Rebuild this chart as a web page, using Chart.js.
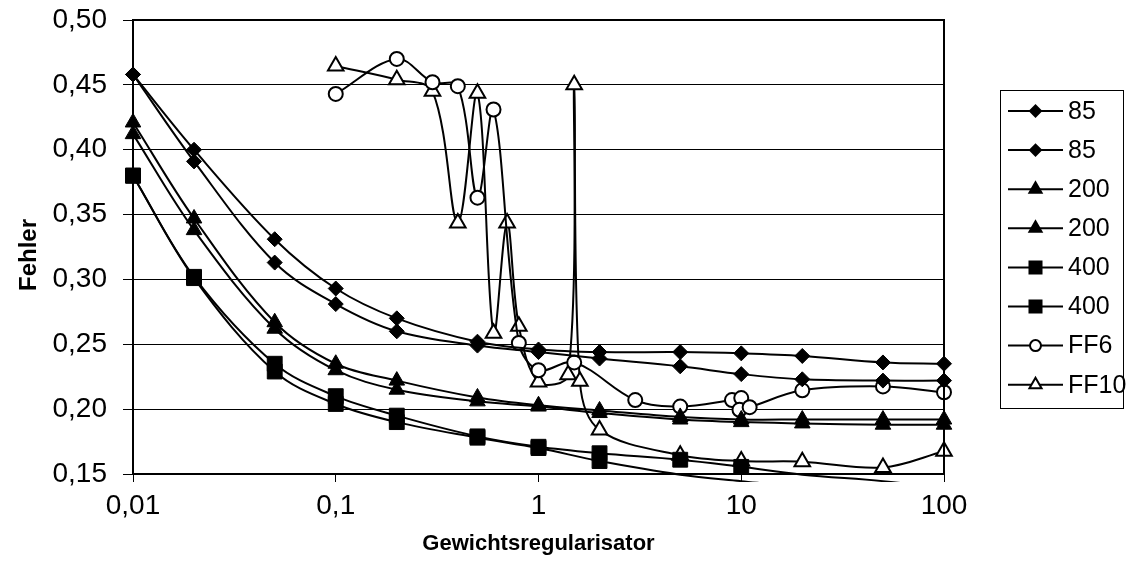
<!DOCTYPE html>
<html>
<head>
<meta charset="utf-8">
<script src="https://cdn.jsdelivr.net/npm/chart.js@4/dist/chart.umd.min.js"></script>
<style>
  html, body { margin: 0; padding: 0; background: #ffffff; }
  #wrap { width: 1132px; height: 582px; }
</style>
</head>
<body>
<div id="wrap"><canvas id="c" width="1132" height="582"></canvas></div>
<script>
// Regularisation strengths shared by the 85 / 200 / 400 runs
const regValues = [0.01, 0.02, 0.05, 0.1, 0.2, 0.5, 1, 2, 5, 10, 20, 50, 100];

const err85a  = [0.458, 0.400, 0.331, 0.293, 0.270, 0.252, 0.246, 0.244, 0.244, 0.243, 0.241, 0.236, 0.235];
const err85b  = [0.458, 0.391, 0.313, 0.281, 0.260, 0.249, 0.244, 0.239, 0.233, 0.227, 0.223, 0.222, 0.222];
const err200a = [0.421, 0.347, 0.267, 0.235, 0.222, 0.209, 0.203, 0.199, 0.194, 0.192, 0.192, 0.192, 0.192];
const err200b = [0.412, 0.338, 0.262, 0.230, 0.215, 0.206, 0.202, 0.197, 0.192, 0.190, 0.189, 0.188, 0.188];
const err400a = [0.380, 0.302, 0.235, 0.210, 0.195, 0.179, 0.171, 0.166, 0.161, 0.1555, 0.1495, 0.1445, 0.139];
const err400b = [0.380, 0.301, 0.229, 0.204, 0.190, 0.178, 0.170, 0.160, 0.1495, 0.1445, 0.140, 0.137, 0.134];

// FF6 and FF10 runs use their own regularisation values
const regFF6  = [0.1, 0.2, 0.3, 0.4, 0.5, 0.6, 0.8, 1, 1.5, 3, 5, 9, 10, 9.8, 11, 20, 50, 100];
const errFF6  = [0.443, 0.470, 0.452, 0.449, 0.363, 0.431, 0.251, 0.230, 0.236, 0.207, 0.202, 0.207, 0.2085, 0.1995, 0.2015, 0.2145, 0.2175, 0.213];
const regFF10 = [0.1, 0.2, 0.3, 0.4, 0.5, 0.6, 0.7, 0.8, 1, 1.4, 1.5, 1.6, 2, 5, 10, 20, 50, 100];
const errFF10 = [0.4645, 0.454, 0.445, 0.3435, 0.4435, 0.2585, 0.3435, 0.264, 0.221, 0.2265, 0.450, 0.2215, 0.184, 0.1645, 0.160, 0.1595, 0.155, 0.1675];

const xTickValues = [0.01, 0.1, 1, 10, 100];
const yMin = 0.15, yMax = 0.50, yStep = 0.05;

const FONT = '"Liberation Sans", Arial, sans-serif';
const toPoints = (xs, ys) => xs.map((x, i) => ({ x: x, y: ys[i] }));
const comma = v => String(v).replace('.', ',');

function series(label, xs, ys, style, radius, legendRadius, open) {
  return {
    label: label,
    data: toPoints(xs, ys),
    showLine: true,
    borderColor: '#000000',
    borderWidth: 2,
    tension: 0.35,
    pointStyle: style,
    pointRadius: ctx => (ctx.raw && ctx.raw.y < yMin) ? 0 : radius,
    pointBorderWidth: open ? 2 : 1,
    pointBorderColor: '#000000',
    pointBackgroundColor: open ? '#ffffff' : '#000000',
    clip: { left: 15, top: 15, right: 15, bottom: 8 },
    legendRadius: legendRadius
  };
}

const datasets = [
  series('85',   regValues, err85a,  'rectRot',  7.5, 5.5, false),
  series('85',   regValues, err85b,  'rectRot',  7.5, 5.5, false),
  series('200',  regValues, err200a, 'triangle', 9,   7,   false),
  series('200',  regValues, err200b, 'triangle', 9,   7,   false),
  series('400',  regValues, err400a, 'rect',     10.5, 8.5, false),
  series('400',  regValues, err400b, 'rect',     10.5, 8.5, false),
  series('FF6',  regFF6,  errFF6,  'circle',   7,   5.5, true),
  series('FF10', regFF10, errFF10, 'triangle', 9,   7,   true)
];

// Frame around the plot area, the vertical axis title and the boxed legend
const framePlugin = {
  id: 'frameAndLegend',
  afterDraw(chart) {
    const ctx = chart.ctx;
    const a = chart.chartArea;
    ctx.save();
    ctx.strokeStyle = '#000000';
    ctx.lineWidth = 2;
    ctx.beginPath();
    ctx.moveTo(a.left, a.top);
    ctx.lineTo(a.right, a.top);
    ctx.lineTo(a.right, a.bottom);
    ctx.stroke();

    // vertical axis title
    ctx.save();
    ctx.translate(29, 255);
    ctx.rotate(-Math.PI / 2);
    ctx.font = 'bold 24px ' + FONT;
    ctx.fillStyle = '#000000';
    ctx.textAlign = 'center';
    ctx.textBaseline = 'middle';
    ctx.fillText('Fehler', 0, 0);
    ctx.restore();

    // legend box
    const lx = 1000, ly = 90, lw = 123, lh = 318;
    ctx.lineWidth = 1;
    ctx.strokeStyle = '#000000';
    ctx.strokeRect(lx + 0.5, ly + 0.5, lw, lh);
    ctx.font = '25px ' + FONT;
    ctx.textBaseline = 'middle';
    ctx.textAlign = 'left';
    chart.data.datasets.forEach((ds, i) => {
      const y = 111 + i * 39.1;
      ctx.strokeStyle = '#000000';
      ctx.lineWidth = 2;
      ctx.beginPath();
      ctx.moveTo(1008, y);
      ctx.lineTo(1063, y);
      ctx.stroke();
      ctx.fillStyle = ds.pointBackgroundColor;
      ctx.strokeStyle = '#000000';
      Chart.helpers.drawPoint(ctx, {
        pointStyle: ds.pointStyle,
        radius: ds.legendRadius,
        rotation: 0,
        borderWidth: ds.pointBorderWidth
      }, 1035.5, y);
      ctx.fillStyle = '#000000';
      ctx.fillText(ds.label, 1068, y + 1);
    });
    ctx.restore();
  }
};

new Chart(document.getElementById('c'), {
  type: 'scatter',
  data: { datasets: datasets },
  options: {
    responsive: false,
    animation: false,
    devicePixelRatio: 1,
    events: [],
    layout: { padding: { top: 20, right: 188, left: 0, bottom: 0 } },
    elements: { line: { capBezierPoints: false } },
    plugins: { legend: { display: false }, tooltip: { enabled: false } },
    scales: {
      x: {
        type: 'logarithmic',
        min: 0.01,
        max: 100,
        afterBuildTicks: scale => { scale.ticks = xTickValues.map(v => ({ value: v })); },
        afterFit: scale => {
          scale.height = 108;
          scale.paddingLeft = 0;
          scale.paddingRight = 0;
        },
        ticks: {
          color: '#000000',
          font: { family: FONT, size: 28 },
          padding: 7,
          maxRotation: 0,
          autoSkip: false,
          callback: v => comma(v)
        },
        grid: { drawOnChartArea: false, color: '#000000', tickLength: 8, lineWidth: 1 },
        border: { color: '#000000', width: 2 },
        title: {
          display: true,
          text: 'Gewichtsregularisator',
          color: '#000000',
          font: { family: FONT, size: 22, weight: 'bold' },
          padding: { top: 0, bottom: 25 }
        }
      },
      y: {
        min: yMin,
        max: yMax,
        afterFit: scale => {
          scale.width = 133;
          scale.paddingTop = 0;
          scale.paddingBottom = 0;
        },
        ticks: {
          stepSize: yStep,
          color: '#000000',
          font: { family: FONT, size: 28 },
          padding: 16,
          callback: v => v.toFixed(2).replace('.', ',')
        },
        grid: { color: '#000000', tickLength: 10, lineWidth: 1 },
        border: { color: '#000000', width: 2 }
      }
    }
  },
  plugins: [framePlugin]
});
</script>
</body>
</html>
